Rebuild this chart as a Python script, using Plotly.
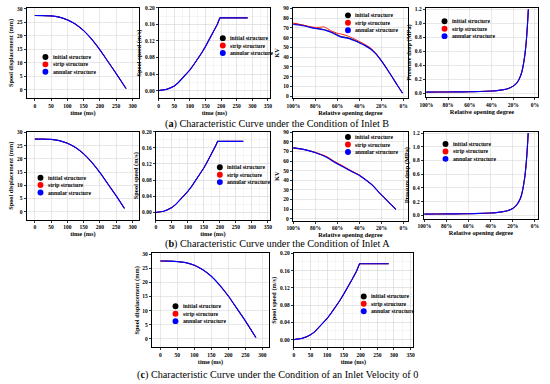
import plotly.graph_objects as go

W, H = 550, 384

# ---------------- data ----------------
# spool displacement (mm) vs time (ms)
time_disp_a = [0, 25, 50, 75, 100, 125, 150, 175, 200, 225, 250, 280]
disp_a = [27.5, 27.47, 27.35, 26.9, 25.9, 24.3, 21.9, 18.7, 14.8, 10.4, 6.0, 0.5]
time_disp_b = [0, 25, 50, 75, 100, 125, 150, 175, 200, 225, 250, 275]
disp_b = [27.5, 27.47, 27.35, 26.9, 25.9, 24.3, 21.9, 18.7, 14.8, 10.4, 6.0, 1.3]
time_disp_c = [0, 25, 50, 75, 100, 125, 150, 175, 200, 225, 250, 281]
disp_c = [27.6, 27.55, 27.4, 27.0, 26.1, 24.5, 22.2, 19.0, 15.2, 10.8, 6.4, 0.5]

# spool speed (m/s) vs time (ms)
time_speed_a = [0, 12.5, 25, 37.5, 50, 62.5, 75, 87.5, 100, 112.5, 125, 137.5, 150, 162.5, 175, 187.5, 196, 285]
speed_a = [0.0, 0.0008, 0.003, 0.0065, 0.011, 0.019, 0.029, 0.039, 0.050, 0.063, 0.076, 0.091, 0.107, 0.124, 0.141, 0.160, 0.176, 0.176]
time_speed_b = [0, 12.5, 25, 37.5, 50, 62.5, 75, 87.5, 100, 112.5, 125, 137.5, 150, 162.5, 175, 187.5, 193, 273]
speed_b = [0.0, 0.0008, 0.003, 0.007, 0.012, 0.020, 0.030, 0.041, 0.052, 0.065, 0.079, 0.094, 0.110, 0.128, 0.146, 0.166, 0.176, 0.176]
time_speed_c = [0, 12.5, 25, 37.5, 50, 62.5, 75, 87.5, 100, 112.5, 125, 137.5, 150, 162.5, 175, 187.5, 197, 284]
speed_c = [0.0, 0.0008, 0.003, 0.0063, 0.011, 0.018, 0.028, 0.038, 0.049, 0.062, 0.075, 0.090, 0.106, 0.122, 0.140, 0.158, 0.176, 0.176]

# KV vs relative opening degree (%)
opening_kv_a = [100, 95, 90, 85, 80, 75, 72, 70, 65, 60, 57, 55, 50, 45, 40, 35, 30, 25, 20, 15, 10, 5, 1]
kv_a_initial = [74.2, 73.6, 72.5, 70.9, 69.8, 68.9, 68.2, 67.6, 65.6, 63.0, 61.3, 60.8, 59.8, 57.6, 55.2, 52.3, 48.8, 43.4, 36.0, 27.6, 18.9, 9.8, 3.0]
kv_a_strip = [75.0, 73.8, 72.6, 71.3, 70.5, 70.7, 71.0, 69.8, 66.7, 64.5, 63.8, 63.2, 61.5, 58.8, 56.0, 52.9, 49.4, 43.8, 36.2, 27.8, 19.0, 9.9, 3.0]
kv_a_annular = [73.5, 73.0, 72.0, 70.6, 69.4, 68.5, 67.8, 67.2, 65.0, 62.3, 60.6, 60.2, 59.2, 57.0, 54.6, 51.8, 48.3, 43.0, 35.8, 27.5, 18.8, 9.8, 3.0]

opening_kv_b = [100, 90, 80, 70, 63, 55, 48, 40, 34, 28, 22, 18, 13, 10, 7]
kv_b_initial = [73.8, 72.0, 68.8, 64.3, 59.3, 54.3, 49.8, 45.2, 40.1, 34.6, 27.1, 22.5, 16.5, 13.2, 9.8]
kv_b_strip = [73.2, 71.8, 69.0, 64.8, 59.8, 54.8, 50.2, 45.4, 40.3, 34.7, 27.1, 22.5, 16.5, 13.2, 9.8]
kv_b_annular = [73.6, 71.8, 68.5, 64.0, 59.0, 54.0, 49.6, 45.0, 40.0, 34.5, 27.0, 22.5, 16.5, 13.2, 9.8]

# pressure drop (MPa) vs relative opening degree (%)
opening_p = [100, 90, 80, 70, 60, 50, 40, 35, 30, 25, 20, 17, 15, 13, 12, 11, 10, 9, 8, 7, 6.5, 6]
p_a = [0.020, 0.021, 0.022, 0.023, 0.025, 0.029, 0.035, 0.041, 0.051, 0.068, 0.105, 0.145, 0.19, 0.26, 0.31, 0.38, 0.47, 0.58, 0.73, 0.94, 1.07, 1.2]
p_b = [0.018, 0.019, 0.020, 0.021, 0.023, 0.027, 0.033, 0.039, 0.049, 0.066, 0.100, 0.140, 0.185, 0.25, 0.30, 0.37, 0.46, 0.57, 0.72, 0.93, 1.06, 1.2]

opening_ticks = [100, 80, 60, 40, 20, 0]
opening_ticktext = ["100%", "80%", "60%", "40%", "20%", "0%"]

series_names = ["initial structure", "strip structure", "annular structure"]
series_colors = ["#000000", "#ff0000", "#0000ff"]
series_widths = [0.9, 0.9, 1.15]

captions = [
    "(<b>a</b>) Characteristic Curve under the Condition of Inlet B",
    "(<b>b</b>) Characteristic Curve under the Condition of Inlet A",
    "(<b>c</b>) Characteristic Curve under the Condition of an Inlet Velocity of 0",
]

# ---------------- layout helpers ----------------
SERIF = "Liberation Serif"
fig = go.Figure()


def xdom(x0, x1):
    return [x0 / W, x1 / W]


def ydom(y0, y1):
    return [1 - y1 / H, 1 - y0 / H]


panel_defs = [
    # box: x0, x1, y0, y1 (pixels); legend: dot x, middle row y
    ((21, 135, 5, 96), "disp", (time_disp_a, [disp_a] * 3), (40, 62)),
    ((155, 268, 5, 96), "speed", (time_speed_a, [speed_a] * 3), (220, 43)),
    ((291, 408, 5, 96), "kv", (opening_kv_a, [kv_a_initial, kv_a_strip, kv_a_annular]), (347, 20)),
    ((426, 540, 5, 95), "p", (opening_p, [p_a] * 3), (445, 26)),
    ((21, 135, 130, 219), "disp", (time_disp_b, [disp_b] * 3), (35, 184)),
    ((152, 268, 130, 219), "speed", (time_speed_b, [speed_b] * 3), (217, 173.5)),
    ((291, 408, 130, 220), "kv", (opening_kv_b, [kv_b_initial, kv_b_strip, kv_b_annular]), (347, 143)),
    ((424, 540, 130, 218), "p", (opening_p, [p_b] * 3), (446, 150)),
    ((148, 267, 253, 348), "disp", (time_disp_c, [disp_c] * 3), (172, 314)),
    ((292, 413, 253, 348), "speed", (time_speed_c, [speed_c] * 3), (363, 304)),
]

tickfont = dict(family=SERIF, size=5.5, color="black", weight="bold")
titlefont = dict(family=SERIF, size=6.3, color="black", weight="bold")
GRID = "#d9d9d9"

axis_cfg = {
    "disp": dict(
        x=dict(range=[-25, 320], tickvals=[0, 50, 100, 150, 200, 250, 300], title="time (ms)"),
        y=dict(range=[-3, 30.3], tickvals=[0, 5, 10, 15, 20, 25, 30], title="Spool displacement (mm)"),
        minor=False, line="spline",
    ),
    "speed": dict(
        x=dict(range=[0, 357], tickvals=[0, 50, 100, 150, 200, 250, 300, 350], title="time (ms)"),
        y=dict(range=[-0.018, 0.2], tickvals=[0, 0.04, 0.08, 0.12, 0.16, 0.2], tickformat=".2f",
               title="Spool speed (m/s)"),
        minor=True, line="linear",
    ),
    "kv": dict(
        x=dict(range=[100.5, -4], tickvals=opening_ticks, ticktext=opening_ticktext,
               title="Relative opening degree"),
        y=dict(range=[-2, 90.5], tickvals=list(range(0, 91, 10)), title="KV"),
        minor=False, line="spline",
    ),
    "p": dict(
        x=dict(range=[100.5, -3], tickvals=opening_ticks, ticktext=opening_ticktext,
               title="Relative opening degree"),
        y=dict(range=[-0.05, 1.22], tickvals=[0, 0.2, 0.4, 0.6, 0.8, 1.0, 1.2], tickformat=".1f",
               title="Pressure drop (MPa)"),
        minor=False, line="spline",
    ),
}

ROW_GAP = 7.5   # legend row spacing (px)
DOT_R = 3.0     # legend dot radius (px)

annotations = []
shapes = []
layout_axes = {}
for i, (box, kind, (xs, ys_list), (dotx, midy)) in enumerate(panel_defs, start=1):
    x0, x1, y0, y1 = box
    cfg = axis_cfg[kind]
    xname = "xaxis" if i == 1 else f"xaxis{i}"
    yname = "yaxis" if i == 1 else f"yaxis{i}"
    xref = "x" if i == 1 else f"x{i}"
    yref = "y" if i == 1 else f"y{i}"
    xc = dict(cfg["x"])
    yc = dict(cfg["y"])
    xtitle = xc.pop("title")
    ytitle = yc.pop("title")
    common = dict(
        showline=True, linecolor="black", linewidth=1, mirror=True,
        ticks="outside", ticklen=2, tickwidth=0.8, tickcolor="black",
        showgrid=True, gridcolor=GRID, gridwidth=0.6, zeroline=False,
        tickfont=tickfont, tickmode="array",
    )
    xaxis = dict(common, domain=xdom(x0, x1), anchor=yref, **xc,
                 title=dict(text=xtitle, font=titlefont, standoff=0))
    yaxis = dict(common, domain=ydom(y0, y1), anchor=xref, **yc,
                 title=dict(text=ytitle, font=titlefont, standoff=2))
    if cfg["minor"]:
        xaxis["minor"] = dict(dtick=25, tick0=0, showgrid=True, gridcolor="#ececec", gridwidth=0.5, ticks="")
        yaxis["minor"] = dict(dtick=0.02, tick0=0, showgrid=True, gridcolor="#ececec", gridwidth=0.5, ticks="")
    layout_axes[xname] = xaxis
    layout_axes[yname] = yaxis

    for name, color, lw, ys in zip(series_names, series_colors, series_widths, ys_list):
        line = dict(color=color, width=lw, shape=cfg["line"])
        if cfg["line"] == "spline":
            line["smoothing"] = 0.5
        fig.add_trace(go.Scatter(
            x=xs, y=ys, mode="lines", name=name, showlegend=False,
            line=line, xaxis=xref, yaxis=yref, hoverinfo="skip",
        ))

    # legend: symbol dot (shape) + label (annotation) per series
    for k, (name, color) in enumerate(zip(series_names, series_colors)):
        ry = midy + (k - 1) * ROW_GAP
        shapes.append(dict(
            type="circle", xref="paper", yref="paper",
            x0=(dotx - DOT_R) / W, x1=(dotx + DOT_R) / W,
            y0=1 - (ry + DOT_R) / H, y1=1 - (ry - DOT_R) / H,
            fillcolor=color, line=dict(width=0), layer="above",
        ))
        annotations.append(dict(
            x=(dotx + DOT_R + 2.5) / W, y=1 - ry / H, xref="paper", yref="paper",
            xanchor="left", yanchor="middle", showarrow=False,
            text=f"<b>{name}</b>", font=dict(family=SERIF, size=5.7, color="black"),
        ))

for cap, cy in zip(captions, [122.5, 243.5, 376]):
    annotations.append(dict(
        x=0.5, y=1 - cy / H, xref="paper", yref="paper", xanchor="center", yanchor="middle",
        showarrow=False, text=cap, font=dict(family=SERIF, size=10.2, color="black"),
    ))

fig.update_layout(
    width=W, height=H, margin=dict(l=0, r=0, t=0, b=0),
    paper_bgcolor="white", plot_bgcolor="white",
    showlegend=False, annotations=annotations, shapes=shapes, **layout_axes,
)

fig.write_html(
    "out.html",
    config={"displayModeBar": False, "staticPlot": True},
    post_script="document.body.style.margin='0';document.body.style.overflow='hidden';",
)
